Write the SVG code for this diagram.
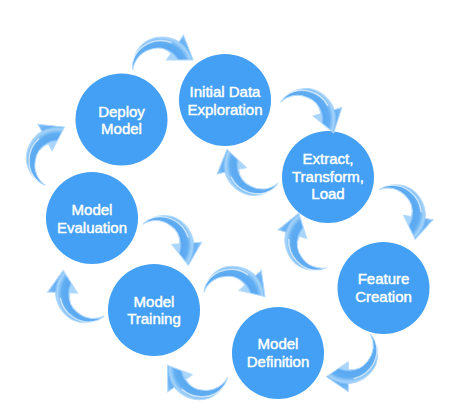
<svg xmlns="http://www.w3.org/2000/svg" width="459" height="417" viewBox="0 0 459 417">
<defs>
<style>
.node circle{fill:#43a0f4}
.node text{font-family:"Liberation Sans",Arial,sans-serif;font-size:15px;fill:#fff;text-anchor:middle;stroke:#fff;stroke-width:0.45}
.arrow-body{fill:url(#ag);stroke:#b3d9fb;stroke-width:1}
.hl{fill:none;stroke:#fff;stroke-opacity:0.6;stroke-width:1.5;stroke-linecap:round}
</style>
<radialGradient id="ag" gradientUnits="userSpaceOnUse" cx="0" cy="0" r="42">
<stop offset="0" stop-color="#a9d5fb"/>
<stop offset="0.47" stop-color="#a9d5fb"/>
<stop offset="0.53" stop-color="#5aa8f1"/>
<stop offset="0.66" stop-color="#60adf2"/>
<stop offset="0.77" stop-color="#a6d4fa"/>
<stop offset="0.84" stop-color="#66b0f3"/>
<stop offset="1" stop-color="#8cc4f7"/>
</radialGradient>
<g id="arr">
<path class="arrow-body" d="M -15.5 -22.1 A 30 30 0 0 1 15.75 -27.28 A 32.5 32.5 0 0 1 34 0 L 42 0 L 27 22 L 12 0 L 20 0 A 21 21 0 0 0 11.25 -19.49 A 24 24 0 0 0 -15.5 -22.1 Z"/>
<path class="hl" d="M -8 -27.5 A 29.5 29.5 0 0 1 28.9 -6.1"/>
</g>
</defs>
<rect width="459" height="417" fill="#fff"/>
<g id="deploy-model" class="node"><circle cx="121.5" cy="119.5" r="46"/><text x="121.5" y="117">Deploy</text><text x="121.5" y="134">Model</text></g>
<g id="initial-data-exploration" class="node"><circle cx="225" cy="100" r="46"/><text x="225" y="96.7">Initial Data</text><text x="225" y="115">Exploration</text></g>
<g id="extract-transform-load" class="node"><circle cx="328" cy="177" r="46"/><text x="328" y="164">Extract,</text><text x="328" y="181.7">Transform,</text><text x="328" y="199.3">Load</text></g>
<g id="feature-creation" class="node"><circle cx="383.5" cy="288" r="46"/><text x="383.5" y="284">Feature</text><text x="383.5" y="301.5">Creation</text></g>
<g id="model-definition" class="node"><circle cx="278" cy="353" r="46"/><text x="278" y="349">Model</text><text x="278" y="367">Definition</text></g>
<g id="model-training" class="node"><circle cx="154" cy="310" r="46"/><text x="154" y="306.5">Model</text><text x="154" y="324">Training</text></g>
<g id="model-evaluation" class="node"><circle cx="92" cy="218" r="46"/><text x="92" y="215">Model</text><text x="92" y="232.5">Evaluation</text></g>
<g id="connectors">
<use href="#arr" transform="translate(159.8 69.8) rotate(-55.7)"/>
<use href="#arr" transform="translate(301.6 119.2) rotate(-16.2)"/>
<use href="#arr" transform="translate(258.1 165) rotate(167.5)"/>
<use href="#arr" transform="translate(391.6 213.6) rotate(8.3)"/>
<use href="#arr" transform="translate(348.3 349.7) rotate(90)"/>
<use href="#arr" transform="translate(202.2 367.9) rotate(145.2)"/>
<use href="#arr" transform="translate(230.2 298.4) rotate(-42)"/>
<use href="#arr" transform="translate(159.8 245.3) rotate(-4.2)"/>
<use href="#arr" transform="translate(89.5 293.4) rotate(-178)"/>
<use href="#arr" transform="translate(318.3 242) rotate(-163.2)"/>
<use href="#arr" transform="translate(57.8 161.3) rotate(-118.2)"/>
</g>
</svg>
